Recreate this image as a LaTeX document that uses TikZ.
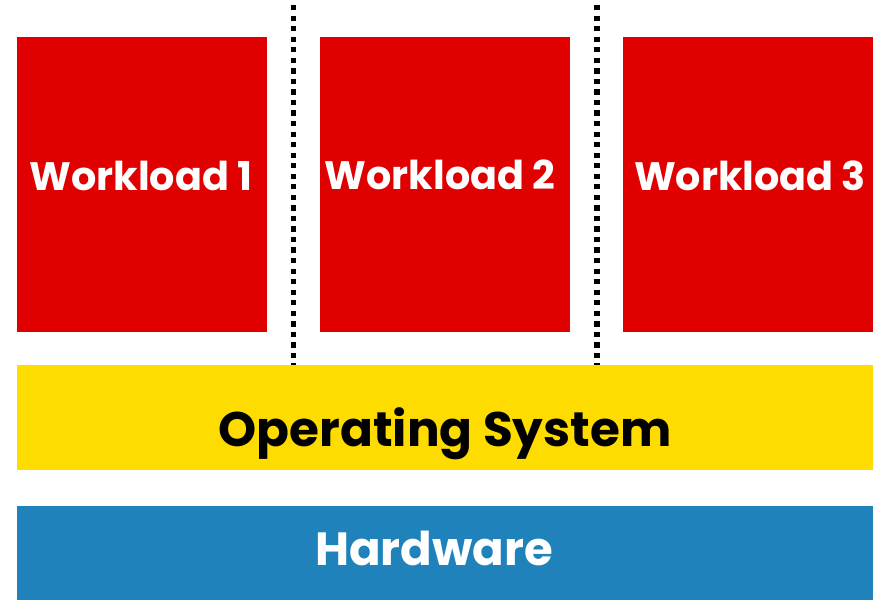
\documentclass[tikz,border=0pt]{standalone}
\usepackage{fontspec}
\setmainfont{Poppins}
\usetikzlibrary{positioning}

\definecolor{wlred}{HTML}{E00000}
\definecolor{osyellow}{HTML}{FFDC00}
\definecolor{hwblue}{HTML}{1F82BB}

\tikzset{
  layer/.style={inner sep=0pt, outer sep=0pt},
  label/.style={inner sep=0pt, anchor=base, font=\fontsize{22.6}{26}\selectfont\bfseries},
  workload/.style={layer, fill=wlred, minimum width=5cm, minimum height=5.9cm},
  sep/.style={line width=3pt, dash pattern=on 3pt off 3pt}
}

\begin{document}
\begin{tikzpicture}[x=0.02cm, y=-0.02cm]

\useasboundingbox (0,0) rectangle (876,600);

% Workloads on top
\node[workload] (w1) at (142,184.5) {};
\node[workload] (w2) at (445,184.5) {};
\node[workload] (w3) at (748,184.5) {};
\node[label, text=white] (w1text) at (141,190) {Workload 1};
\node[label, text=white] (w2text) at (440,189) {Workload 2};
\node[label, text=white] (w3text) at (750,190) {Workload 3};

% Operating system and hardware layers
\node[layer, fill=osyellow, minimum width=17.12cm, minimum height=2.1cm] (os) at (445,417.5) {};
\node[label, text=black, font=\fontsize{27.6}{31}\selectfont\bfseries] (ostext) at (445,446) {Operating System};
\node[layer, fill=hwblue, minimum width=17.12cm, minimum height=1.88cm] (hw) at (445,553) {};
\node[label, text=white, font=\fontsize{26.5}{30}\selectfont\bfseries] (hwtext) at (434,565) {Hardware};

% Dotted separators between workloads
\coordinate (s1top) at (293.5,5);
\coordinate (s2top) at (597,5);
\draw[sep] (s1top) -- (s1top |- os.north);
\draw[sep] (s2top) -- (s2top |- os.north);

\end{tikzpicture}
\end{document}
